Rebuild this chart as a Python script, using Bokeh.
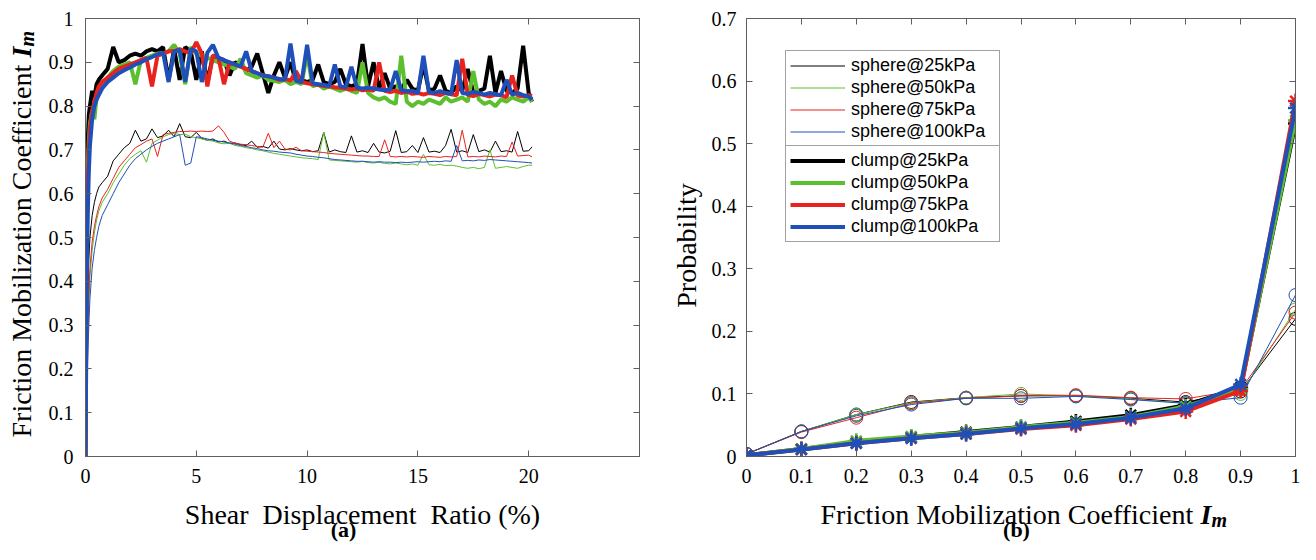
import math
from bokeh.plotting import figure
from bokeh.models import Range1d, LinearAxis, FixedTicker, Label, Legend, LegendItem
from bokeh.layouts import row, column
from bokeh.embed import file_html
from bokeh.resources import INLINE

# ---------------- data: panel (a) ----------------
SHEAR_X = [0, 0.03, 0.06, 0.1, 0.15, 0.2, 0.3, 0.4, 0.5, 0.6, 0.75,
           1.0, 1.25, 1.5, 1.75, 2.0, 2.25, 2.5, 2.75, 3.0, 3.25, 3.5, 3.75,
           4.0, 4.25, 4.5, 4.75, 5.0, 5.25, 5.5, 5.75, 6.0, 6.25, 6.5, 6.75,
           7.0, 7.25, 7.5, 7.75, 8.0, 8.25, 8.5, 8.75, 9.0, 9.25, 9.5, 9.75,
           10.0, 10.25, 10.5, 10.75, 11.0, 11.25, 11.5, 11.75, 12.0, 12.25, 12.5, 12.75,
           13.0, 13.25, 13.5, 13.75, 14.0, 14.25, 14.5, 14.75, 15.0, 15.25, 15.5, 15.75,
           16.0, 16.25, 16.5, 16.75, 17.0, 17.25, 17.5, 17.75, 18.0, 18.25, 18.5, 18.75,
           19.0, 19.25, 19.5, 19.75, 20.0, 20.15]

sphere_25 = [0, 0.15, 0.27, 0.38, 0.45, 0.50, 0.55, 0.58, 0.60, 0.615, 0.625,
             0.64, 0.675, 0.69, 0.705, 0.715, 0.745, 0.72, 0.725, 0.748, 0.728, 0.732, 0.745,
             0.73, 0.76, 0.73, 0.728, 0.74, 0.726, 0.722, 0.725, 0.718, 0.72, 0.715, 0.716,
             0.712, 0.71, 0.72, 0.706, 0.708, 0.704, 0.72, 0.702, 0.70, 0.703, 0.70, 0.698,
             0.70, 0.696, 0.698, 0.74, 0.695, 0.70, 0.696, 0.694, 0.732, 0.695, 0.698, 0.694,
             0.715, 0.695, 0.693, 0.697, 0.744, 0.694, 0.696, 0.71, 0.694, 0.728, 0.695, 0.697,
             0.694, 0.71, 0.747, 0.695, 0.698, 0.694, 0.735, 0.696, 0.70, 0.695, 0.72, 0.696,
             0.698, 0.695, 0.742, 0.697, 0.698, 0.707]
sphere_50 = [0, 0.10, 0.18, 0.27, 0.35, 0.41, 0.47, 0.51, 0.54, 0.56, 0.58,
             0.60, 0.625, 0.645, 0.665, 0.68, 0.69, 0.698, 0.672, 0.715, 0.722, 0.73, 0.735,
             0.738, 0.735, 0.736, 0.73, 0.728, 0.725, 0.722, 0.72, 0.716, 0.714, 0.715, 0.71,
             0.708, 0.705, 0.703, 0.70, 0.698, 0.695, 0.692, 0.69, 0.688, 0.686, 0.684, 0.682,
             0.681, 0.68, 0.678, 0.74, 0.677, 0.676, 0.675, 0.674, 0.673, 0.672, 0.674, 0.671,
             0.67, 0.672, 0.669, 0.668, 0.67, 0.668, 0.666, 0.668, 0.665, 0.69, 0.666, 0.665,
             0.667, 0.664, 0.665, 0.663, 0.66, 0.658, 0.66, 0.657, 0.66, 0.70, 0.658, 0.66,
             0.662, 0.66, 0.658, 0.662, 0.665, 0.665]
sphere_75 = [0, 0.12, 0.20, 0.30, 0.37, 0.43, 0.49, 0.525, 0.55, 0.57, 0.59,
             0.61, 0.635, 0.66, 0.675, 0.69, 0.705, 0.712, 0.72, 0.725, 0.685, 0.735, 0.738,
             0.74, 0.742, 0.742, 0.743, 0.742, 0.743, 0.742, 0.743, 0.755, 0.74, 0.72, 0.715,
             0.713, 0.712, 0.71, 0.708, 0.706, 0.738, 0.705, 0.72, 0.702, 0.70, 0.706, 0.698,
             0.697, 0.696, 0.695, 0.694, 0.692, 0.691, 0.69, 0.689, 0.688, 0.687, 0.686, 0.686,
             0.685, 0.685, 0.723, 0.685, 0.684, 0.685, 0.684, 0.685, 0.684, 0.683, 0.685, 0.684,
             0.683, 0.685, 0.684, 0.685, 0.745, 0.684, 0.685, 0.684, 0.686, 0.685, 0.684, 0.686,
             0.685, 0.718, 0.686, 0.687, 0.688, 0.684]
sphere_100 = [0, 0.08, 0.15, 0.23, 0.30, 0.36, 0.43, 0.47, 0.50, 0.525, 0.55,
              0.575, 0.60, 0.625, 0.645, 0.665, 0.68, 0.69, 0.70, 0.708, 0.715, 0.72, 0.725,
              0.73, 0.735, 0.665, 0.67, 0.73, 0.728, 0.725, 0.722, 0.72, 0.718, 0.716, 0.713,
              0.71, 0.708, 0.705, 0.703, 0.70, 0.698, 0.697, 0.695, 0.694, 0.693, 0.69, 0.688,
              0.686, 0.685, 0.683, 0.682, 0.68, 0.678, 0.677, 0.676, 0.675, 0.674, 0.674, 0.673,
              0.672, 0.673, 0.672, 0.672, 0.671, 0.672, 0.671, 0.672, 0.673, 0.672, 0.673, 0.674,
              0.673, 0.675, 0.674, 0.71, 0.675, 0.676, 0.675, 0.677, 0.676, 0.678, 0.677, 0.676,
              0.675, 0.674, 0.673, 0.672, 0.671, 0.67]

clump_25 = [0, 0.35, 0.60, 0.72, 0.78, 0.80, 0.835, 0.82, 0.85, 0.86, 0.87,
            0.885, 0.935, 0.90, 0.905, 0.915, 0.92, 0.915, 0.925, 0.93, 0.925, 0.935, 0.86,
            0.93, 0.86, 0.935, 0.925, 0.86, 0.925, 0.855, 0.915, 0.91, 0.905, 0.87, 0.90,
            0.895, 0.88, 0.89, 0.92, 0.875, 0.83, 0.87, 0.90, 0.865, 0.90, 0.855, 0.86,
            0.855, 0.86, 0.895, 0.855, 0.85, 0.855, 0.885, 0.85, 0.845, 0.85, 0.942, 0.845,
            0.90, 0.84, 0.875, 0.84, 0.845, 0.838, 0.86, 0.84, 0.835, 0.895, 0.835, 0.84,
            0.87, 0.835, 0.83, 0.845, 0.835, 0.885, 0.83, 0.835, 0.84, 0.915, 0.83, 0.88,
            0.835, 0.83, 0.84, 0.938, 0.83, 0.81]
clump_50 = [0, 0.30, 0.55, 0.66, 0.72, 0.76, 0.79, 0.77, 0.82, 0.835, 0.85,
            0.865, 0.88, 0.89, 0.895, 0.90, 0.85, 0.905, 0.91, 0.915, 0.92, 0.92, 0.925,
            0.94, 0.92, 0.85, 0.935, 0.92, 0.915, 0.91, 0.905, 0.90, 0.895, 0.89, 0.885,
            0.908, 0.875, 0.87, 0.865, 0.87, 0.86, 0.858, 0.855, 0.86, 0.85, 0.855, 0.85,
            0.92, 0.845, 0.85, 0.84, 0.845, 0.84, 0.835, 0.84, 0.835, 0.83, 0.90, 0.83,
            0.82, 0.815, 0.82, 0.81, 0.805, 0.915, 0.81, 0.80, 0.81, 0.805, 0.815, 0.81,
            0.805, 0.82, 0.81, 0.815, 0.82, 0.81, 0.88, 0.815, 0.805, 0.81, 0.80, 0.815,
            0.81, 0.82, 0.815, 0.81, 0.82, 0.81]
clump_75 = [0, 0.25, 0.50, 0.62, 0.70, 0.75, 0.79, 0.81, 0.83, 0.845, 0.855,
            0.865, 0.875, 0.885, 0.89, 0.895, 0.90, 0.905, 0.91, 0.845, 0.915, 0.92, 0.925,
            0.925, 0.93, 0.925, 0.92, 0.946, 0.92, 0.845, 0.915, 0.91, 0.85, 0.90, 0.895,
            0.89, 0.885, 0.88, 0.875, 0.87, 0.868, 0.865, 0.86, 0.862, 0.858, 0.88, 0.855,
            0.852, 0.85, 0.848, 0.846, 0.845, 0.843, 0.842, 0.84, 0.838, 0.84, 0.836, 0.838,
            0.835, 0.90, 0.835, 0.832, 0.835, 0.83, 0.833, 0.828, 0.83, 0.826, 0.83, 0.828,
            0.825, 0.83, 0.827, 0.825, 0.908, 0.826, 0.823, 0.828, 0.825, 0.822, 0.826, 0.825,
            0.82, 0.87, 0.824, 0.822, 0.825, 0.823]
clump_100 = [0, 0.20, 0.40, 0.55, 0.65, 0.71, 0.77, 0.80, 0.815, 0.825, 0.84,
             0.855, 0.865, 0.875, 0.882, 0.888, 0.895, 0.90, 0.907, 0.912, 0.918, 0.922, 0.855,
             0.925, 0.928, 0.855, 0.93, 0.925, 0.855, 0.922, 0.94, 0.91, 0.905, 0.90, 0.895,
             0.89, 0.925, 0.88, 0.875, 0.87, 0.868, 0.865, 0.862, 0.86, 0.943, 0.858, 0.855,
             0.94, 0.852, 0.85, 0.848, 0.846, 0.895, 0.845, 0.843, 0.89, 0.842, 0.84, 0.842,
             0.84, 0.838, 0.836, 0.838, 0.88, 0.836, 0.834, 0.835, 0.83, 0.915, 0.832, 0.83,
             0.834, 0.83, 0.828, 0.905, 0.83, 0.828, 0.832, 0.83, 0.826, 0.83, 0.827, 0.825,
             0.86, 0.826, 0.83, 0.825, 0.822, 0.815]

# ---------------- data: panel (b) ----------------
IM = [0, 0.1, 0.2, 0.3, 0.4, 0.5, 0.6, 0.7, 0.8, 0.9, 1.0]
prob_sphere_25 = [0.004, 0.040, 0.067, 0.087, 0.094, 0.097, 0.097, 0.093, 0.087, 0.104, 0.220]
prob_sphere_50 = [0.004, 0.040, 0.067, 0.086, 0.094, 0.100, 0.097, 0.092, 0.085, 0.100, 0.235]
prob_sphere_75 = [0.004, 0.039, 0.062, 0.085, 0.093, 0.097, 0.098, 0.094, 0.092, 0.107, 0.230]
prob_sphere_100 = [0.004, 0.040, 0.065, 0.083, 0.093, 0.093, 0.096, 0.091, 0.085, 0.094, 0.258]
prob_clump_25 = [0.002, 0.012, 0.022, 0.031, 0.039, 0.047, 0.056, 0.066, 0.082, 0.110, 0.532]
prob_clump_50 = [0.002, 0.012, 0.025, 0.032, 0.038, 0.047, 0.054, 0.063, 0.080, 0.108, 0.537]
prob_clump_75 = [0.002, 0.011, 0.021, 0.029, 0.036, 0.044, 0.050, 0.060, 0.072, 0.105, 0.568]
prob_clump_100 = [0.002, 0.011, 0.021, 0.029, 0.036, 0.045, 0.052, 0.062, 0.077, 0.115, 0.557]

LABELS_SPHERE = ["sphere@25kPa", "sphere@50kPa", "sphere@75kPa", "sphere@100kPa"]
LABELS_CLUMP = ["clump@25kPa", "clump@50kPa", "clump@75kPa", "clump@100kPa"]

X_TICKS_A = [0, 5, 10, 15, 20]
Y_TICKS_A = [0, 0.1, 0.2, 0.3, 0.4, 0.5, 0.6, 0.7, 0.8, 0.9, 1.0]
X_TICKS_B = [0, 0.1, 0.2, 0.3, 0.4, 0.5, 0.6, 0.7, 0.8, 0.9, 1.0]
Y_TICKS_B = [0, 0.1, 0.2, 0.3, 0.4, 0.5, 0.6, 0.7]

# ---------------- styling ----------------
SERIF = "Liberation Serif"
SANS = "Liberation Sans"
AXC = "#5f5f5f"
COLORS = ["#000000", "#5cbf2e", "#e8221c", "#1f4fb9"]
TICK_FS = "20px"
LAB_FS = "28px"
H = 544


def make_fig(w, xr, yr, mb_left, mb_right):
    p = figure(width=w, height=H, x_range=Range1d(*xr), y_range=Range1d(*yr),
               output_backend="svg", toolbar_location=None,
               min_border_left=mb_left, min_border_right=mb_right,
               min_border_top=18, min_border_bottom=H - 456)
    p.grid.visible = False
    p.outline_line_color = AXC
    p.outline_line_width = 1
    p.background_fill_color = "white"
    p.border_fill_color = "white"
    return p


def style_axes(p, xt, yt, xover, yover, xstand, ystand):
    p.xaxis.ticker = FixedTicker(ticks=xt)
    p.yaxis.ticker = FixedTicker(ticks=yt)
    p.xaxis.major_label_overrides = xover
    p.yaxis.major_label_overrides = yover
    for ax in (p.xaxis, p.yaxis):
        ax.axis_line_color = AXC
        ax.axis_line_width = 1
        ax.major_tick_line_color = AXC
        ax.major_tick_in = 6
        ax.major_tick_out = 0
        ax.minor_tick_line_color = None
        ax.major_label_text_font = SERIF
        ax.major_label_text_font_size = TICK_FS
        ax.major_label_text_color = "black"
    p.xaxis.major_label_standoff = xstand
    p.yaxis.major_label_standoff = ystand
    for place, ticks in (("above", xt), ("right", yt)):
        ax = LinearAxis(ticker=FixedTicker(ticks=ticks), axis_line_color=AXC,
                        major_tick_line_color=AXC, major_tick_in=6, major_tick_out=0,
                        minor_tick_line_color=None, major_label_text_font_size="1px",
                        major_label_text_color=None, major_label_standoff=0)
        p.add_layout(ax, place)


# ---------------- panel (a) ----------------
pa = make_fig(645, (0, 25), (0, 1), 85, 6)
style_axes(pa, X_TICKS_A, Y_TICKS_A, {}, {0: "0", 1: "1"}, 12, 12)

for ys, c in zip([sphere_25, sphere_50, sphere_75, sphere_100], COLORS):
    pa.line(SHEAR_X, ys, line_color=c, line_width=1)
for ys, c in zip([clump_25, clump_50, clump_75, clump_100], COLORS):
    pa.line(SHEAR_X, ys, line_color=c, line_width=4)

# ---------------- panel (b) ----------------
pb = make_fig(655, (0, 1), (0, 0.7), 101, 5)
style_axes(pb, X_TICKS_B, Y_TICKS_B, {0: "0", 1: "1"}, {0: "0"}, 12, 10)

sphere_lines = []
for ys, c in zip([prob_sphere_25, prob_sphere_50, prob_sphere_75, prob_sphere_100], COLORS):
    r = pb.line(IM, ys, line_color=c, line_width=1)
    pb.scatter(IM, ys, marker="circle", size=13, line_color=c, fill_color=None, line_width=1)
    sphere_lines.append(r)
clump_lines = []
for ys, c in zip([prob_clump_25, prob_clump_50, prob_clump_75, prob_clump_100], COLORS):
    r = pb.line(IM, ys, line_color=c, line_width=4)
    pb.scatter(IM, ys, marker="asterisk", size=15, line_color=c, line_width=2.5)
    clump_lines.append(r)


def make_legend(labels, rends, loc):
    return Legend(items=[LegendItem(label=l, renderers=[r]) for l, r in zip(labels, rends)],
                  location=loc, orientation="vertical",
                  label_text_font=SANS, label_text_font_size="18px", label_text_color="black",
                  glyph_width=55, glyph_height=21, label_height=21, label_width=144,
                  label_standoff=6, spacing=1, padding=4, margin=0,
                  border_line_color="#444444", border_line_width=1,
                  background_fill_color="white", background_fill_alpha=1)


pb.add_layout(make_legend(LABELS_SPHERE, sphere_lines, (39, 309)), "center")
pb.add_layout(make_legend(LABELS_CLUMP, clump_lines, (39, 214)), "center")

# ---------------- transparent overlay carrying the axis titles (real text, mixed styles) ----
ov = figure(width=1300, height=H, x_range=Range1d(0, 1300), y_range=Range1d(H, 0),
            x_axis_type=None, y_axis_type=None, toolbar_location=None,
            output_backend="svg", min_border=0,
            min_border_left=0, min_border_right=0, min_border_top=0, min_border_bottom=0,
            margin=(-H, 0, 0, 0))
ov.grid.visible = False
ov.outline_line_color = None
ov.background_fill_color = None
ov.border_fill_color = None


def txt(x, y, s, size=LAB_FS, style="normal", align="left", angle=0.0):
    ov.add_layout(Label(x=x, y=y, text=s, angle=angle, text_font=SERIF, text_font_size=size,
                        text_font_style=style, text_align=align,
                        text_baseline="alphabetic", text_color="black"))


V = math.pi / 2
# panel (a)
txt(21, 437, "Friction Mobilization Coefficient", angle=V)
txt(21, 57, "I", style="bold italic", angle=V)
txt(26, 46, "m", size="20px", style="bold italic", angle=V)
txt(362, 514, "Shear\u00a0\u00a0Displacement\u00a0\u00a0Ratio (%)", align="center")
txt(343, 529, "(a)", size="22px", style="bold", align="center")
# panel (b)
txt(686, 245, "Probability", align="center", angle=V)
txt(820, 514, "Friction Mobilization Coefficient")
txt(1200, 514, "I", style="bold italic")
txt(1211, 519, "m", size="20px", style="bold italic")
txt(1016, 529, "(b)", size="22px", style="bold", align="center")

layout = column(row(pa, pb, spacing=0), ov, spacing=0)
open("out.html", "w").write(file_html(layout, INLINE))
